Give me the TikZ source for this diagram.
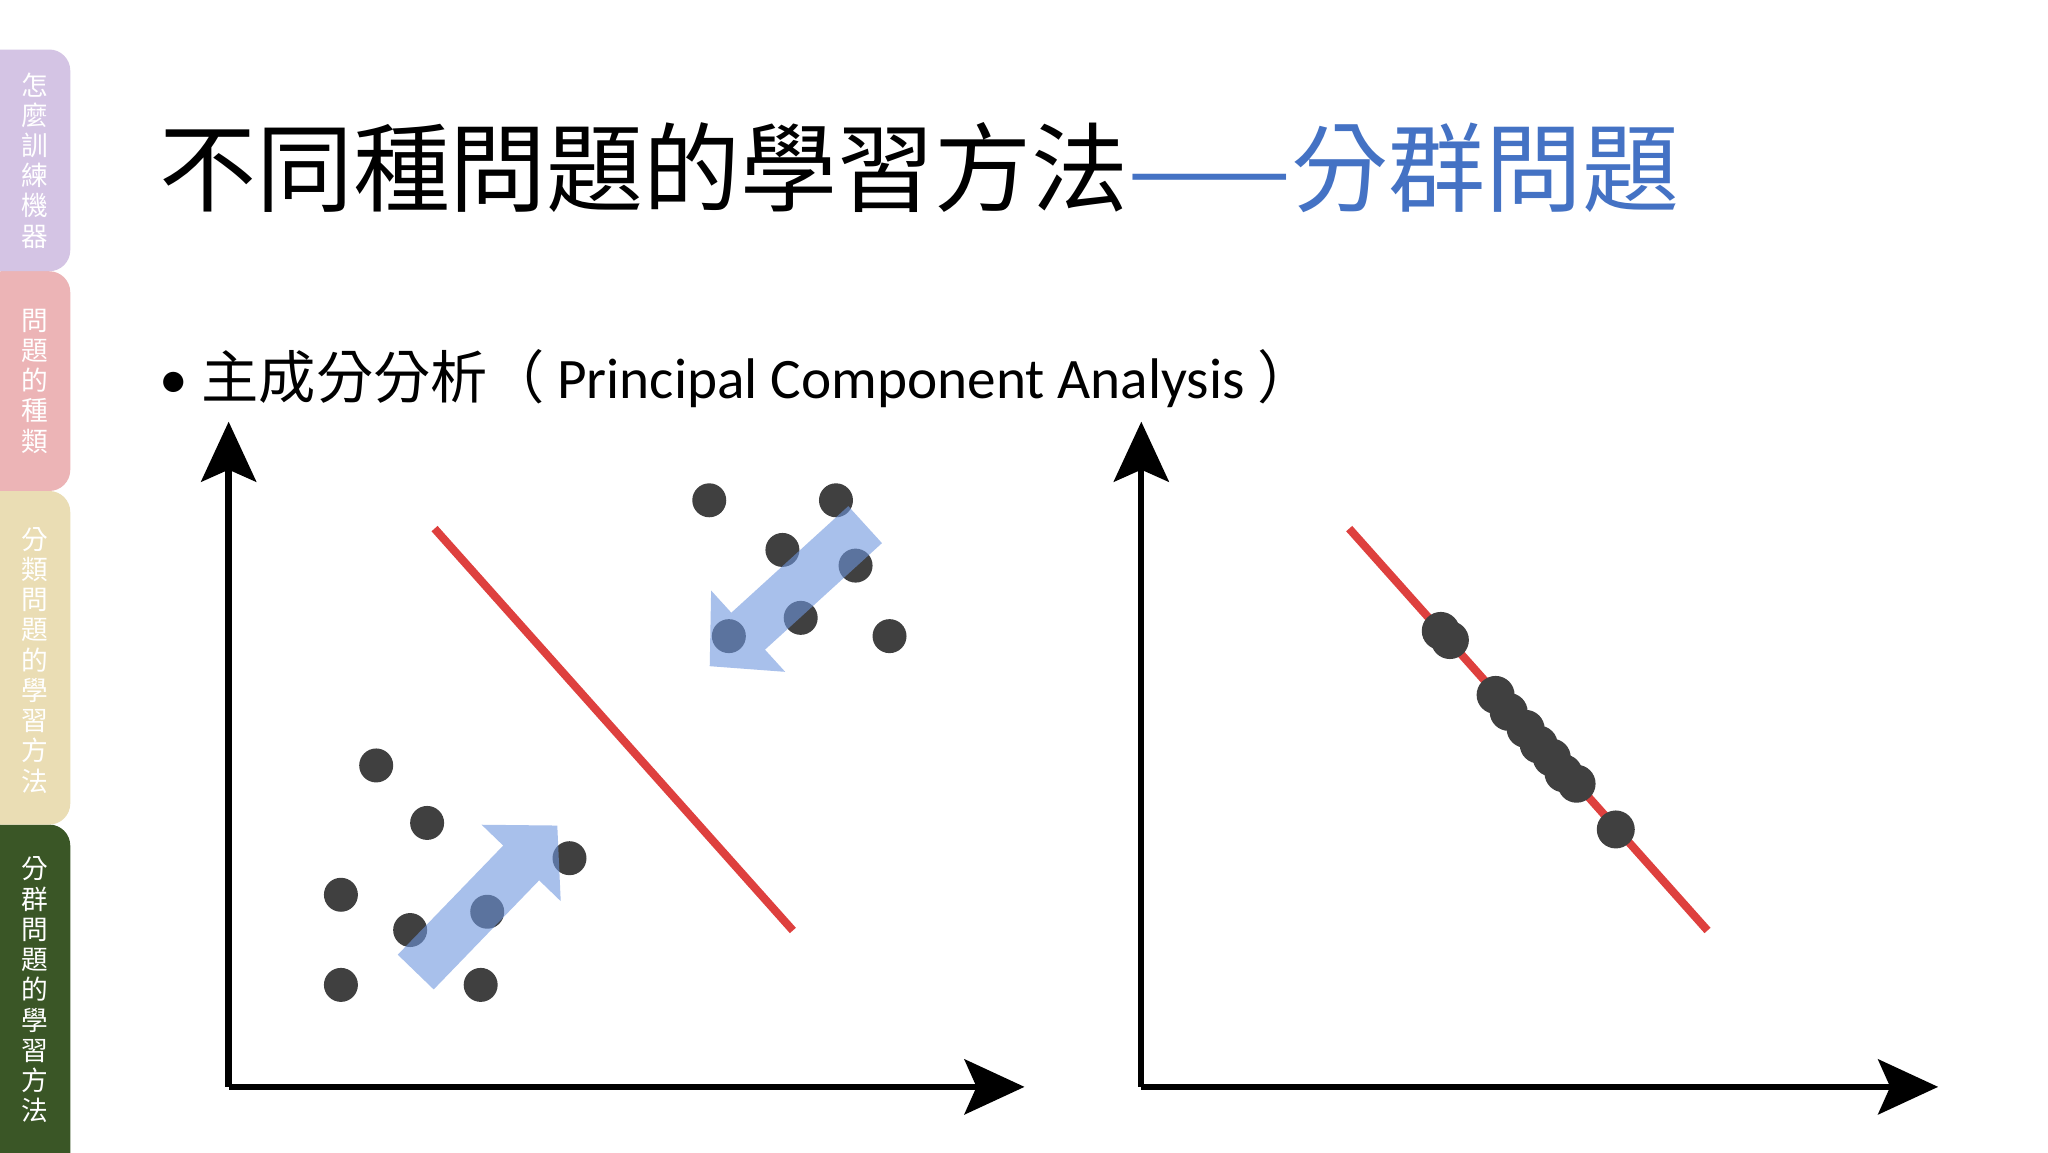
\documentclass[tikz,border=0pt]{standalone}
\usepackage{fontspec}
\setmainfont{Carlito}
\newfontfamily\cjk{Noto Sans CJK TC}
\usetikzlibrary{calc,arrows.meta}
\definecolor{tabA}{RGB}{212,196,228}
\definecolor{tabB}{RGB}{236,180,182}
\definecolor{tabC}{RGB}{234,221,180}
\definecolor{tabD}{RGB}{58,86,38}
\definecolor{ttlblue}{RGB}{68,114,196}
\definecolor{dotc}{RGB}{64,64,64}
\definecolor{redl}{RGB}{222,64,62}
\definecolor{arrblue}{RGB}{110,150,222}
\tikzset{
 tabtxt/.style={text=white,font=\cjk\fontsize{7.6}{8.6}\selectfont,align=center,inner sep=0},
 axis/.style={line width=1.8pt,-{Triangle[length=0.6cm,width=0.55cm,inset=0.12cm]}},
 dot/.style={circle,fill=dotc,minimum size=0.34cm,inner sep=0},
 redline/.style={redl,line width=2.3pt},
 bigarrow/.style={fill=arrblue,fill opacity=0.6}
}
\begin{document}
\begin{tikzpicture}[x=0.0099cm,y=-0.0099cm]
\useasboundingbox (0,0) rectangle (2069,1164);
\fill[white] (0,0) rectangle (2069,1164);
% sidebar
\fill[tabD,rounded corners=6] (-20,833) rectangle (71,1190);
\fill[tabC,rounded corners=6] (-20,496) rectangle (71,833);
\fill[tabB,rounded corners=6] (-20,274) rectangle (71,496);
\fill[tabA,rounded corners=6] (-20,50) rectangle (71,274);
\node[tabtxt] (s1) at (35,162) {怎\\麼\\訓\\練\\機\\器};
\node[tabtxt] (s2) at (35,385) {問\\題\\的\\種\\類};
\node[tabtxt] (s3) at (35,667) {分\\類\\問\\題\\的\\學\\習\\方\\法};
\node[tabtxt] (s4) at (35,1000) {分\\群\\問\\題\\的\\學\\習\\方\\法};
% title
\node[anchor=west,inner sep=0,font=\cjk\fontsize{27.6}{30}\selectfont] (title) at (160,169) {不同種問題的學習方法\textcolor{ttlblue}{——分群問題}};
% bullet
\node[anchor=west,inner sep=0,font=\fontsize{16.3}{19}\selectfont] (bul) at (160,382) {•\hspace{0.14cm}{\cjk 主成分分析（}\hspace{0.12cm}Principal Component Analysis\hspace{0.12cm}{\cjk ）}};
% axes
\coordinate (o1) at (231,1098); \coordinate (y1) at (231,426); \coordinate (x1) at (1035,1098);
\coordinate (o2) at (1153,1098); \coordinate (y2) at (1153,426); \coordinate (x2) at (1958,1098);
\draw[axis] (o1) -- (y1);
\draw[axis] (o1) -- (x1);
\draw[axis] (o2) -- (y2);
\draw[axis] (o2) -- (x2);
% red lines
\coordinate (r1a) at (439,534); \coordinate (r1b) at (801,940);
\coordinate (r2a) at (1363,534); \coordinate (r2b) at (1725,940);
\draw[redline] (r1a) -- (r1b);
\draw[redline] (r2a) -- (r2b);
% left dots
\foreach \i/\a/\b in {1/543/383,2/640/383,3/599/421,4/655/433,5/613/473,6/558/487,7/681/487,8/288/586,9/327/630,10/436/657,11/261/685,12/373/698,13/314/712,14/261/754,15/368/754}
  \node[dot] (d\i) at ({1.3196*\a},{1.3196*\b}) {};
% right dots
\foreach \i/\a/\b in {1/1103/483,2/1110/490,3/1145/532,4/1155/545,5/1168/558,6/1178/570,7/1188/580,8/1197/592,9/1207/600,10/1237/635}
  \node[dot,minimum size=0.38cm] (e\i) at ({1.3196*\a},{1.3196*\b}) {};
% blue arrows
\foreach \ta/\tb/\ha/\hb in {420/982/563/834,874/530/717/673}{
  \coordinate (T) at (\ta,\tb); \coordinate (H) at (\ha,\hb);
  \coordinate (B) at ($(H)!0.52cm!(T)$);
  \fill[bigarrow] ($(T)!0.25cm!90:(H)$) -- ($(B)!0.25cm!-90:(T)$) -- ($(B)!0.55cm!-90:(T)$) -- (H)
     -- ($(B)!0.55cm!90:(T)$) -- ($(B)!0.25cm!90:(T)$) -- ($(T)!0.25cm!-90:(H)$) -- cycle;
}
\end{tikzpicture}
\end{document}
